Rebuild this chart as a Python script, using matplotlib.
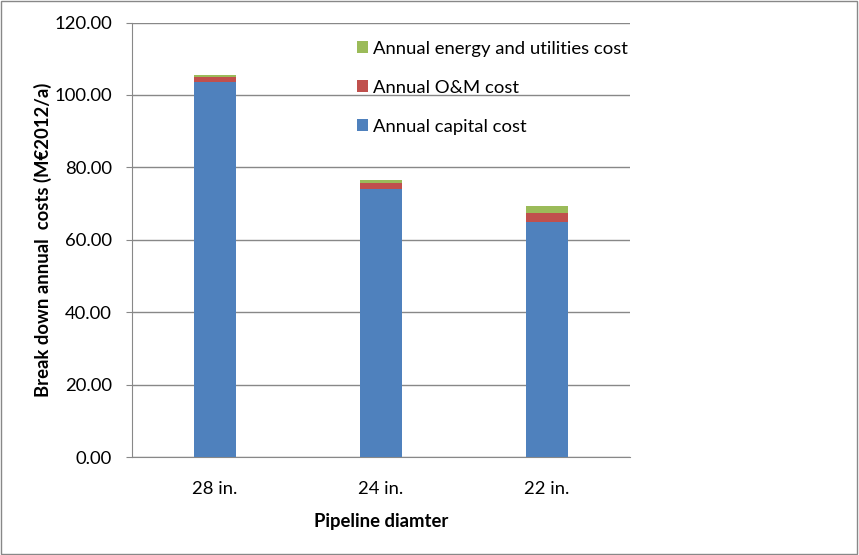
import matplotlib.pyplot as plt
import numpy as np

plt.rcParams['font.family'] = ['Lato', 'DejaVu Sans']

# Data (M€2012/a)
diameters = ['28 in.', '24 in.', '22 in.']
capital = [103.6, 74.1, 64.9]
om = [1.4, 1.7, 2.6]
energy = [0.4, 0.8, 1.7]

labels = ['Annual capital cost', 'Annual O&M cost', 'Annual energy and utilities cost']
colors = ['#4F81BD', '#C0504D', '#9BBB59']

fig = plt.figure(figsize=(8.59, 5.55), dpi=100)
ax = fig.add_axes([132/859, 1 - 457/555, 498/859, 434.5/555])

x = np.arange(len(diameters))
width = 0.25
bottom = np.zeros(len(diameters))
handles = []
for vals, lab, c in zip([capital, om, energy], labels, colors):
    h = ax.bar(x, vals, width, bottom=bottom, color=c, label=lab, zorder=3)
    handles.append(h)
    bottom += np.array(vals)

fs = 13.3
ax.set_xlim(-0.5, 2.5)
ax.set_ylim(0, 120)
ax.set_yticks(np.arange(0, 121, 20))
ax.set_yticklabels([f'{v:.2f}' for v in np.arange(0, 121, 20)], fontsize=fs)
ax.set_xticks(x)
ax.set_xticklabels(diameters, fontsize=fs)
ax.tick_params(axis='x', length=0, pad=17.5)
ax.tick_params(axis='y', length=4.5, color='#888888', pad=10)
ax.yaxis.grid(True, color='#888888', linewidth=1, zorder=0)

for side in ['top', 'right']:
    ax.spines[side].set_visible(False)
for side in ['left', 'bottom']:
    ax.spines[side].set_color('#888888')

ax.set_xlabel('Pipeline diamter', fontsize=fs, fontweight='bold', labelpad=11)
ax.set_ylabel('Break down annual  costs (M€2012/a)', fontsize=fs, fontweight='bold')
ax.yaxis.set_label_coords(-0.161, 0.5)

ax.legend(handles[::-1], labels[::-1], loc='upper left', bbox_to_anchor=(0.425, 0.988),
          frameon=False, fontsize=fs, handlelength=0.6, handleheight=0.6,
          handletextpad=0.3, labelspacing=1.25, borderaxespad=0.3)

# Outer chart border
fig.patches.append(plt.Rectangle((0.001, 0.001), 0.997, 0.997, transform=fig.transFigure,
                                 fill=False, edgecolor='#888888', linewidth=1))

fig.savefig('out.png', dpi=100)
